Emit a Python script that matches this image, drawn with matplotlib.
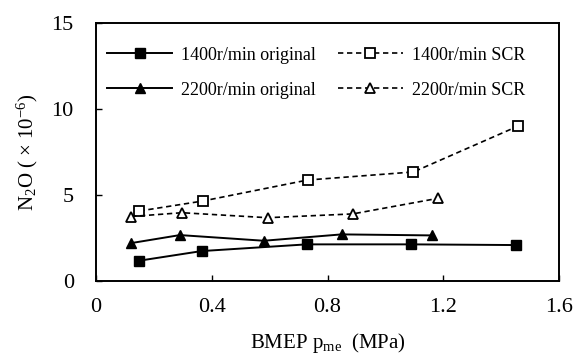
import numpy as np
import matplotlib
matplotlib.use("Agg")
import matplotlib.pyplot as plt

plt.rcParams['font.family'] = ['Liberation Serif', 'DejaVu Serif']
plt.rcParams['mathtext.fontset'] = 'custom'
plt.rcParams['mathtext.rm'] = 'Liberation Serif'
plt.rcParams['mathtext.it'] = 'Liberation Serif:italic'

# data
x_1400 = [0.149, 0.365, 0.728, 1.090, 1.450]
orig_1400 = [1.18, 1.74, 2.13, 2.13, 2.09]
x_1400_scr = [0.150, 0.369, 0.731, 1.097, 1.459]
scr_1400 = [4.07, 4.65, 5.87, 6.34, 9.01]

x_2200 = [0.120, 0.290, 0.580, 0.849, 1.162]
orig_2200 = [2.20, 2.67, 2.34, 2.71, 2.65]
x_2200_scr = [0.121, 0.297, 0.593, 0.887, 1.183]
scr_2200 = [3.75, 3.97, 3.68, 3.90, 4.81]

fig = plt.figure(figsize=(5.78, 3.6), dpi=100)
ax = fig.add_axes([96/578, 1-281/360, 463/578, 258/360])

dash = (0, (3.2, 2.2))
l1, = ax.plot(x_1400, orig_1400, 'k-', marker='s', ms=7, lw=1.4, label='1400r/min original')
l2, = ax.plot(x_1400_scr, scr_1400, color='k', ls=dash, marker='s', ms=7, mfc='white',
              mew=1.3, lw=1.2, label='1400r/min SCR')
l3, = ax.plot(x_2200, orig_2200, 'k-', marker='^', ms=7.5, lw=1.4, label='2200r/min original')
l4, = ax.plot(x_2200_scr, scr_2200, color='k', ls=dash, marker='^', ms=7.5, mfc='white',
              mew=1.3, lw=1.2, label='2200r/min SCR')

ax.set_xlim(0, 1.6)
ax.set_ylim(0, 15)
ax.set_xticks([0, 0.4, 0.8, 1.2, 1.6])
ax.set_xticklabels(['0', '0.4', '0.8', '1.2', '1.6'])
ax.set_yticks([0, 5, 10, 15])
ax.tick_params(direction='in', length=4.5, width=1.0, labelsize=16)
ax.tick_params(axis='y', pad=16)
ax.tick_params(axis='x', pad=12)
for s in ax.spines.values():
    s.set_linewidth(1.4)

ax.set_xlabel('BMEP p$_{\\mathrm{me}}$  (MPa)', fontsize=15, labelpad=10)
ax.set_ylabel('N$_2$O ( \u00d7 10$^{-6}$)', fontsize=15, labelpad=8)

# column-major order so rows read: 1400 orig | 1400 SCR, 2200 orig | 2200 SCR
ax.legend([l1, l3, l2, l4], [l1.get_label(), l3.get_label(), l2.get_label(), l4.get_label()],
          loc='upper left', ncol=2, frameon=False, fontsize=13,
          handlelength=3.6, handletextpad=0.5, labelspacing=1.0,
          columnspacing=1.2, borderpad=0, borderaxespad=0,
          bbox_to_anchor=(0.024, 0.908))

fig.savefig('out.png', dpi=100)
